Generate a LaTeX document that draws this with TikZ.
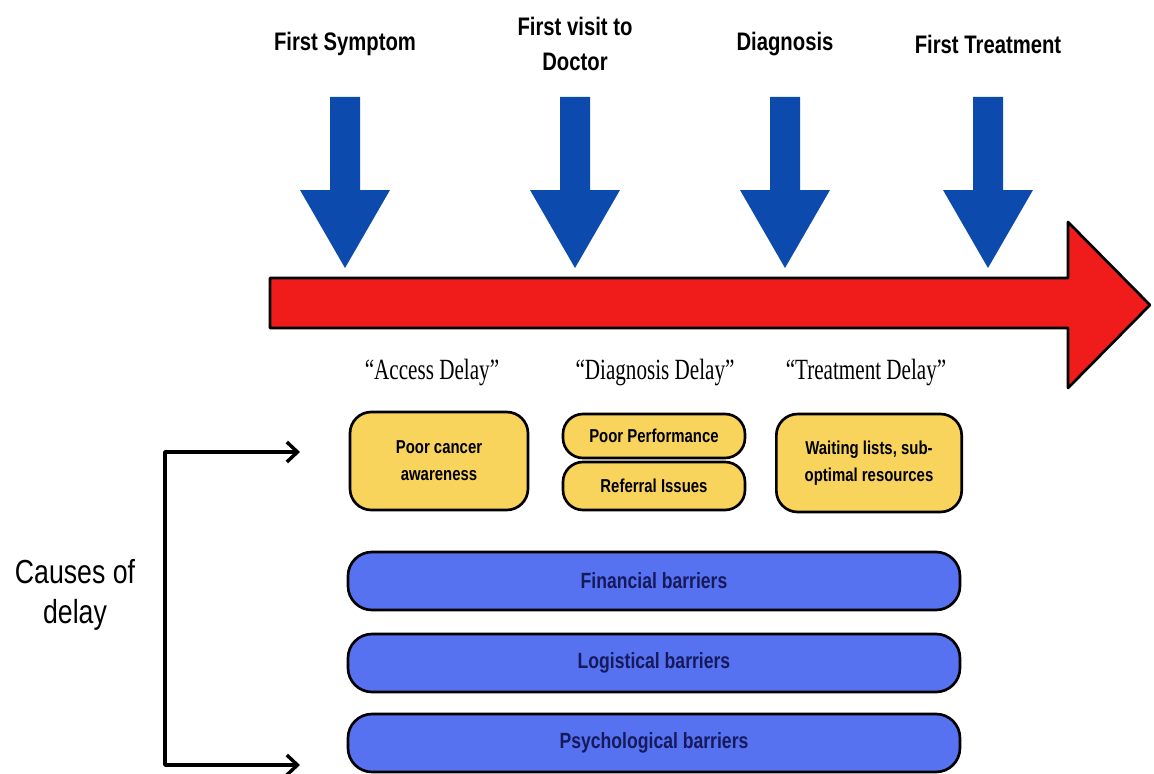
\documentclass[tikz,border=0pt]{standalone}
\usepackage{fontspec}
\setmainfont{Liberation Sans}
\newfontfamily\narrowsf{Liberation Sans}[FakeStretch=0.8]
\newfontfamily\narrowrm{Liberation Serif}[FakeStretch=0.72]
\usetikzlibrary{arrows.meta}
\definecolor{arrowblue}{RGB}{12,74,174}
\definecolor{timered}{RGB}{240,28,28}
\definecolor{boxyellow}{RGB}{248,212,92}
\definecolor{barblue}{RGB}{86,114,240}
\definecolor{barnavy}{RGB}{22,26,92}
\begin{document}
\begin{tikzpicture}[x=0.75pt,y=-0.75pt,>={Straight Barb[length=8pt,width=15pt]}, line join=round]
	\def\shaft{15} \def\head{45}
	\tikzset{toplabel/.style={font={\narrowsf\bfseries\fontsize{19}{26}\selectfont},align=center},
		delaylabel/.style={font={\narrowrm\fontsize{22}{26}\selectfont}},
		causebox/.style={draw,line width=2pt,fill=boxyellow,rounded corners=16pt,align=center,inner sep=2pt,font={\narrowsf\bfseries\fontsize{14}{20}\selectfont}},
		barrier/.style={draw=black,line width=2pt,fill=barblue,rounded corners=18pt,minimum width=459pt,minimum height=43.5pt,text=barnavy,font={\narrowsf\bfseries\fontsize{16.5}{18}\selectfont}}}
	\useasboundingbox (0,0) rectangle (1154,774);
	%\draw[color=gray!50,dashed] (0,0) grid[step=50] (1154,774);
	\draw[fill=timered,line width=2pt] (270,278)--(1068,278)--(1068,222)--(1150,305)--(1068,388)--(1068,328)--(270,328)--cycle;
	\foreach \x/\txt [count=\i] in {345/First Symptom, 575/{First visit to\\Doctor}, 785/Diagnosis, 988/First Treatment}{
		\fill[arrowblue] (\x-\shaft,97)--(\x+\shaft,97)--(\x+\shaft,190)--(\x+\head,190)--(\x,268)--(\x-\head,190)--(\x-\shaft,190)--cycle;
		\node[toplabel] (event\i) at (\x,44) {\txt};
	}
	\node[delaylabel] (access) at (432,372) {“Access Delay”};
	\node[delaylabel] (diagdelay) at (655,372) {“Diagnosis Delay”};
	\node[delaylabel] (treatdelay) at (866,372) {“Treatment Delay”};
	\node[causebox,minimum width=133.5pt,minimum height=73.5pt] (aware) at (439,461) {Poor cancer\\awareness};
	\node[causebox,rounded corners=15pt,minimum width=136.5pt,minimum height=33pt] (perform) at (654,436) {Poor Performance};
	\node[causebox,rounded corners=15pt,minimum width=136.5pt,minimum height=36pt] (referral) at (654,486) {Referral Issues};
	\node[causebox,minimum width=139pt,minimum height=73.5pt] (waiting) at (869,463) {Waiting lists, sub-\\optimal resources};
	\node[barrier] (financial) at (654,581) {Financial barriers};
	\node[barrier] (logistical) at (654,663) {Logistical barriers};
	\node[barrier] (psycho) at (654,743) {Psychological barriers};
	\node[font={\narrowsf\fontsize{25}{30}\selectfont},align=center] (causes) at (75,595) {Causes of\\delay};
	\coordinate (ctop) at (300,452);
	\coordinate (cbot) at (300,765);
	\draw[<->,line width=2.6pt] (ctop)--++(-135,0) |- (cbot);
\end{tikzpicture}
\end{document}
